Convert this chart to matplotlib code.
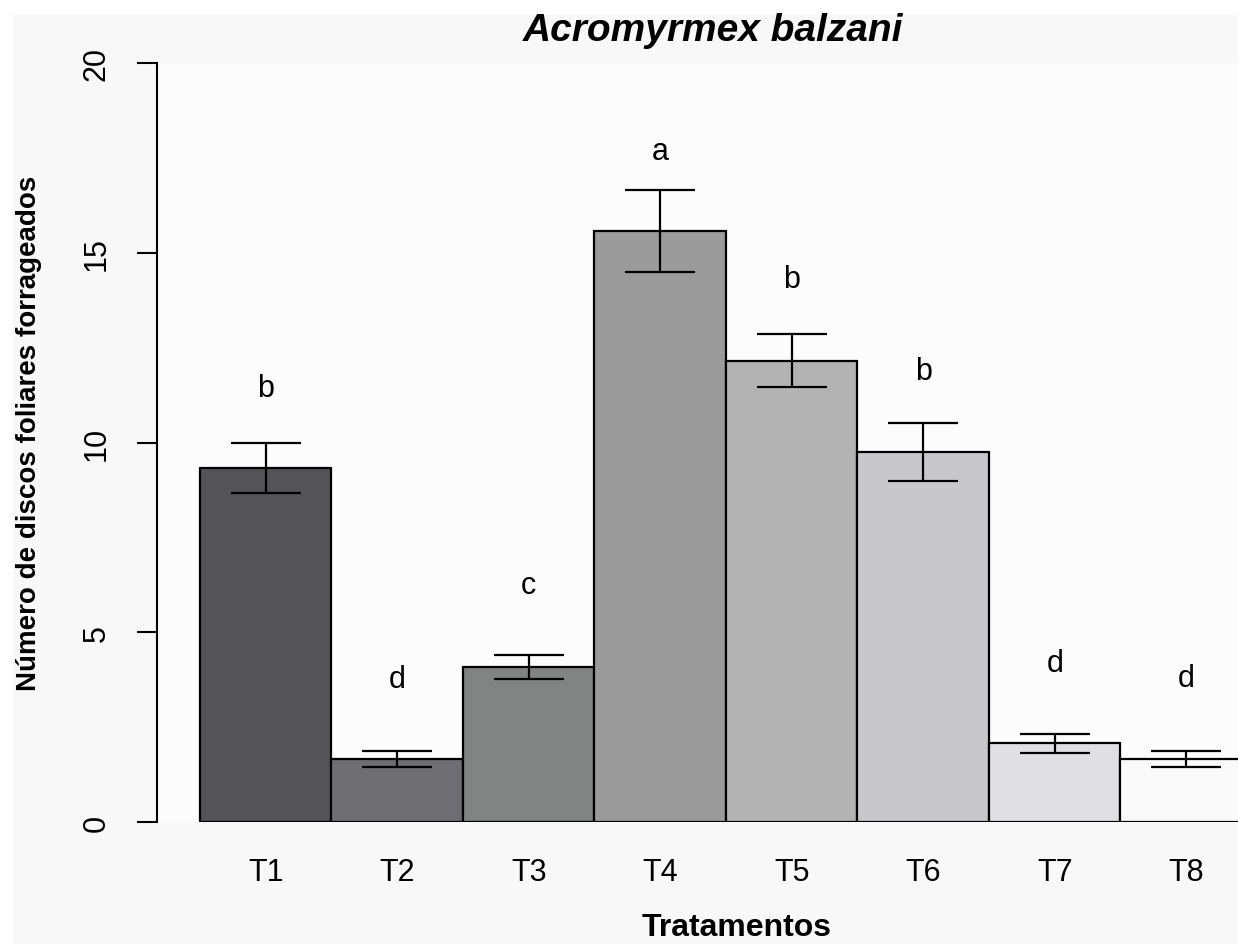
import matplotlib
matplotlib.use("Agg")
import matplotlib.pyplot as plt
from matplotlib.patches import Rectangle

categories = ["T1", "T2", "T3", "T4", "T5", "T6", "T7", "T8"]
means = [9.33, 1.66, 4.08, 15.57, 12.15, 9.75, 2.08, 1.66]
errors = [0.67, 0.20, 0.32, 1.08, 0.70, 0.76, 0.25, 0.20]
letters = ["b", "d", "c", "a", "b", "b", "d", "d"]
letter_y = [11.23, 3.56, 6.03, 17.47, 14.10, 11.67, 3.98, 3.58]
colors = ["#545458", "#6f6f73", "#808584", "#9b9b9b", "#b3b3b3", "#c8c8cb", "#e0e0e3", "#fafafa"]
yticks = [0, 5, 10, 15, 20]

plt.rcParams['font.family'] = ['Liberation Sans', 'DejaVu Sans']

W, H = 1238, 945
fig = plt.figure(figsize=(W / 100, H / 100), dpi=100)
fig.patch.set_facecolor("#f8f8f8")
fig.patches.append(Rectangle((0, 1 - 16 / H), 1, 16 / H, transform=fig.transFigure,
                             facecolor="white", edgecolor="none", zorder=0))
fig.patches.append(Rectangle((0, 0), 13 / W, 1, transform=fig.transFigure,
                             facecolor="white", edgecolor="none", zorder=0))

ax = fig.add_axes([157 / W, (H - 823) / H, (1238 - 157) / W, (823 - 64) / H])
ax.set_facecolor("#fcfcfc")

x = list(range(len(categories)))
ax.bar(x, means, width=1.0, color=colors, edgecolor="black", linewidth=1.6, zorder=2)
ax.errorbar(x, means, yerr=errors, fmt="none", ecolor="black", elinewidth=1.6,
            capsize=25, capthick=1.6, zorder=3)
for xi, lt, ly in zip(x, letters, letter_y):
    ax.text(xi, ly, lt, ha="center", va="baseline", fontsize=22, color="black")

ax.set_ylim(0, 20)
ax.set_xlim(-0.827, 7.394)
ax.set_yticks(yticks)
ax.set_yticklabels([str(v) for v in yticks])
ax.set_xticks(x)
ax.set_xticklabels(categories)
ax.tick_params(axis="y", length=14.4, width=1.5, pad=18, labelsize=22, labelrotation=90)
ax.tick_params(axis="x", length=0, pad=25, labelsize=22)
for lab in ax.get_yticklabels():
    lab.set_va("center")
for s in ["top", "right", "bottom"]:
    ax.spines[s].set_visible(False)
ax.spines["left"].set_linewidth(1.5)

fig.text(713 / W, 1 - 31 / H, "Acromyrmex balzani", ha="center", va="center",
         fontsize=28, fontweight="bold", fontstyle="italic")
fig.text(737 / W, 1 - 943 / H, "Tratamentos", ha="center", va="bottom",
         fontsize=23, fontweight="bold")
fig.text(29 / W, 1 - 433 / H, "Número de discos foliares forrageados", ha="center",
         va="center", rotation=90, fontsize=20, fontweight="bold")

fig.savefig("out.png", dpi=100, facecolor=fig.get_facecolor())
